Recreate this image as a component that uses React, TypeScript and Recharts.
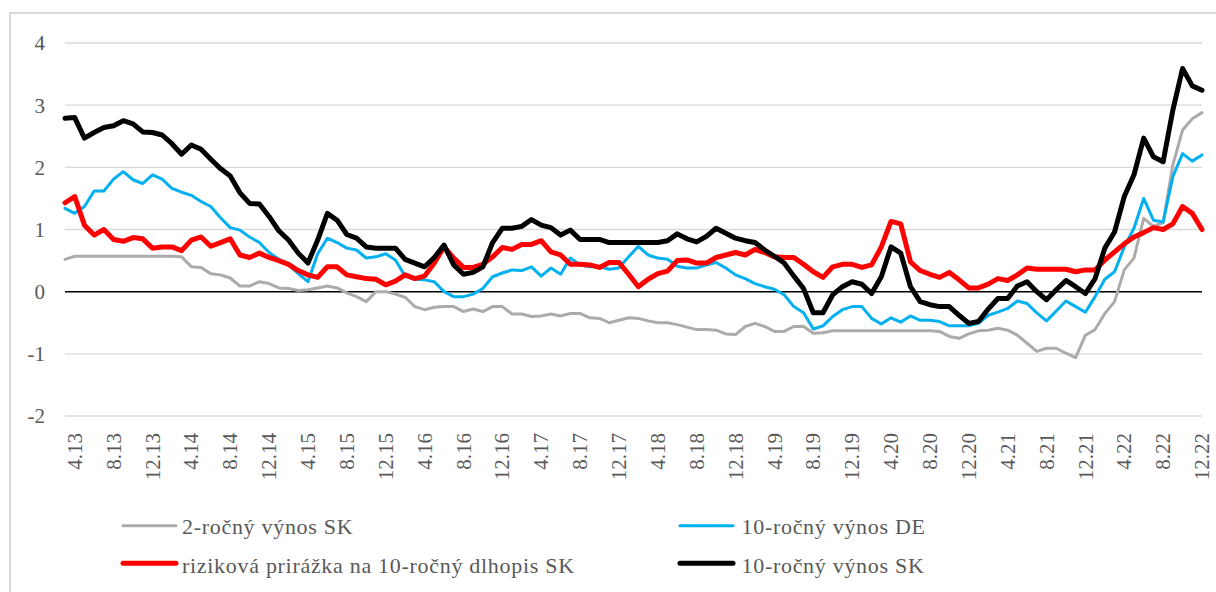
import React from "react";
import {
  LineChart,
  Line,
  XAxis,
  YAxis,
  CartesianGrid,
  ReferenceLine,
  Legend,
} from "recharts";

const FONT = '"Liberation Serif", "Times New Roman", serif';
const TEXT = "#595959";

// monthly categories 3.13 .. 12.22
const months: string[] = [];
for (let y = 13; y <= 22; y++) {
  for (let m = 1; m <= 12; m++) {
    if (y === 13 && m < 3) continue;
    months.push(`${m}.${y}`);
  }
}

const tickLabels = [
  "4.13", "8.13", "12.13", "4.14", "8.14", "12.14", "4.15", "8.15", "12.15",
  "4.16", "8.16", "12.16", "4.17", "8.17", "12.17", "4.18", "8.18", "12.18",
  "4.19", "8.19", "12.19", "4.20", "8.20", "12.20", "4.21", "8.21", "12.21",
  "4.22", "8.22", "12.22",
];

const yTicks = [-2, -1, 0, 1, 2, 3, 4];

const seriesNames = [
  "2-ročný výnos SK",
  "10-ročný výnos DE",
  "riziková prirážka na 10-ročný dlhopis SK",
  "10-ročný výnos SK",
];

const sk2y = [
  0.52, 0.57, 0.57, 0.57, 0.57, 0.57, 0.57, 0.57, 0.57, 0.57,
  0.57, 0.57, 0.56, 0.40, 0.39, 0.29, 0.27, 0.22, 0.09, 0.09,
  0.16, 0.13, 0.06, 0.05, 0.02, 0.03, 0.06, 0.09, 0.06, -0.02,
  -0.08, -0.16, 0.00, 0.00, -0.04, -0.09, -0.24, -0.29, -0.25, -0.24,
  -0.24, -0.32, -0.28, -0.32, -0.24, -0.24, -0.36, -0.36, -0.40, -0.39,
  -0.36, -0.39, -0.35, -0.35, -0.42, -0.43, -0.50, -0.46, -0.42, -0.43,
  -0.47, -0.50, -0.50, -0.53, -0.57, -0.61, -0.61, -0.62, -0.68, -0.69,
  -0.56, -0.51, -0.56, -0.64, -0.64, -0.56, -0.56, -0.67, -0.66, -0.63,
  -0.63, -0.63, -0.63, -0.63, -0.63, -0.63, -0.63, -0.63, -0.63, -0.63,
  -0.64, -0.72, -0.75, -0.68, -0.63, -0.62, -0.59, -0.62, -0.70, -0.83,
  -0.96, -0.91, -0.91, -0.99, -1.06, -0.70, -0.61, -0.35, -0.16, 0.35,
  0.54, 1.18, 1.05, 1.11, 2.04, 2.60, 2.78, 2.88,
];

const de10y = [
  1.34, 1.26, 1.37, 1.62, 1.62, 1.81, 1.93, 1.80, 1.74, 1.88,
  1.81, 1.66, 1.60, 1.55, 1.45, 1.37, 1.19, 1.03, 0.99, 0.88,
  0.79, 0.63, 0.52, 0.43, 0.29, 0.16, 0.61, 0.86, 0.79, 0.70,
  0.67, 0.54, 0.56, 0.61, 0.51, 0.25, 0.20, 0.19, 0.16, 0.00,
  -0.08, -0.08, -0.04, 0.05, 0.24, 0.30, 0.35, 0.34, 0.40, 0.25,
  0.38, 0.28, 0.54, 0.43, 0.40, 0.40, 0.36, 0.38, 0.56, 0.73,
  0.59, 0.54, 0.52, 0.41, 0.38, 0.38, 0.43, 0.47, 0.38, 0.27,
  0.21, 0.13, 0.08, 0.04, -0.05, -0.24, -0.34, -0.60, -0.55, -0.40,
  -0.29, -0.24, -0.24, -0.43, -0.52, -0.42, -0.49, -0.39, -0.46, -0.46,
  -0.48, -0.55, -0.55, -0.55, -0.51, -0.38, -0.33, -0.27, -0.15, -0.19,
  -0.34, -0.47, -0.31, -0.15, -0.24, -0.33, -0.08, 0.20, 0.32, 0.72,
  1.02, 1.50, 1.15, 1.12, 1.85, 2.22, 2.10, 2.20,
];

const spread = [
  1.43, 1.53, 1.07, 0.91, 1.00, 0.84, 0.81, 0.87, 0.85, 0.70,
  0.72, 0.72, 0.66, 0.83, 0.88, 0.73, 0.79, 0.85, 0.59, 0.55,
  0.62, 0.55, 0.50, 0.44, 0.34, 0.27, 0.23, 0.40, 0.40, 0.27,
  0.24, 0.21, 0.20, 0.11, 0.17, 0.27, 0.21, 0.25, 0.46, 0.72,
  0.54, 0.39, 0.39, 0.44, 0.56, 0.71, 0.68, 0.76, 0.76, 0.82,
  0.64, 0.59, 0.44, 0.44, 0.43, 0.39, 0.47, 0.47, 0.28, 0.08,
  0.20, 0.29, 0.33, 0.50, 0.51, 0.46, 0.46, 0.55, 0.59, 0.63,
  0.59, 0.68, 0.63, 0.56, 0.55, 0.55, 0.44, 0.32, 0.23, 0.40,
  0.44, 0.44, 0.39, 0.43, 0.72, 1.13, 1.09, 0.48, 0.34, 0.28,
  0.23, 0.31, 0.19, 0.06, 0.06, 0.12, 0.21, 0.18, 0.27, 0.38,
  0.36, 0.36, 0.36, 0.36, 0.32, 0.35, 0.35, 0.51, 0.64, 0.77,
  0.88, 0.95, 1.03, 1.00, 1.09, 1.37, 1.26, 1.00,
];

const sk10y = [
  2.79, 2.80, 2.47, 2.56, 2.64, 2.67, 2.75, 2.70, 2.57, 2.56,
  2.52, 2.38, 2.21, 2.36, 2.29, 2.13, 1.98, 1.86, 1.59, 1.42,
  1.41, 1.21, 0.98, 0.83, 0.62, 0.46, 0.83, 1.26, 1.15, 0.92,
  0.86, 0.72, 0.70, 0.70, 0.70, 0.52, 0.46, 0.40, 0.55, 0.75,
  0.43, 0.28, 0.31, 0.40, 0.79, 1.02, 1.02, 1.05, 1.16, 1.07,
  1.03, 0.91, 0.99, 0.84, 0.84, 0.84, 0.79, 0.79, 0.79, 0.79,
  0.79, 0.79, 0.82, 0.93, 0.85, 0.80, 0.89, 1.02, 0.94, 0.86,
  0.82, 0.79, 0.67, 0.57, 0.46, 0.25, 0.05, -0.34, -0.34, -0.05,
  0.08, 0.16, 0.12, -0.03, 0.24, 0.72, 0.62, 0.08, -0.16, -0.21,
  -0.24, -0.24, -0.38, -0.51, -0.48, -0.28, -0.11, -0.11, 0.09, 0.16,
  0.00, -0.13, 0.03, 0.18, 0.08, -0.03, 0.21, 0.70, 0.96, 1.53,
  1.88, 2.47, 2.17, 2.09, 2.92, 3.59, 3.31, 3.24,
];

const data = months.map((m, i) => ({
  m,
  sk2y: sk2y[i],
  de10y: de10y[i],
  spread: spread[i],
  sk10y: sk10y[i],
}));

const series = [
  { key: "sk2y", color: "#AEAAAA", width: 3 },
  { key: "de10y", color: "#00B0F0", width: 3 },
  { key: "spread", color: "#FF0000", width: 5 },
  { key: "sk10y", color: "#000000", width: 5 },
];

// legend slots: [lineX, textX, row]
const legendSlots = [
  [123, 182, 0],
  [680, 741.5, 0],
  [123, 182, 1],
  [680, 741.5, 1],
];

const XTick = (props: any) => {
  const { x, y, payload } = props;
  if (!tickLabels.includes(payload.value)) return <g />;
  return (
    <text
      x={x}
      y={y}
      transform={`rotate(-90, ${x}, ${y})`}
      textAnchor="end"
      dy="0.34em"
      fill={TEXT}
      fontSize={21}
      fontFamily={FONT}
    >
      {payload.value}
    </text>
  );
};

const LegendBox = () => (
  <svg width={1216} height={80} style={{ display: "block" }}>
    {series.map((s, i) => {
      const [lx, tx, row] = legendSlots[i];
      const ly = row === 0 ? 20.7 : 58.3;
      const ty = row === 0 ? 29 : 68;
      return (
        <g key={s.key}>
          <line
            x1={lx}
            x2={lx + 53}
            y1={ly}
            y2={ly}
            stroke={s.color}
            strokeWidth={s.width}
            strokeLinecap="round"
          />
          <text
            x={tx}
            y={ty}
            fill={TEXT}
            fontSize={22}
            fontFamily={FONT}
            letterSpacing={0.7}
          >
            {seriesNames[i]}
          </text>
        </g>
      );
    })}
  </svg>
);

export default function App() {
  return (
    <div
      style={{
        position: "absolute",
        left: 0,
        top: 0,
        width: 1216,
        height: 592,
        overflow: "hidden",
        background: "#fff",
      }}
    >
      <div
        style={{
          position: "absolute",
          left: 9,
          top: 12,
          width: 1300,
          height: 700,
          border: "2px solid #D9D9D9",
        }}
      />
      <div style={{ position: "absolute", left: 0, top: 0 }}>
        <LineChart
          width={1216}
          height={592}
          data={data}
          margin={{ top: 43, right: 14, bottom: 116, left: 0 }}
        >
          <CartesianGrid
            horizontal
            vertical={false}
            stroke="#D9D9D9"
            strokeWidth={1.3}
          />
          <XAxis
            dataKey="m"
            height={60}
            interval={0}
            axisLine={false}
            tickLine={false}
            tickSize={0}
            tickMargin={17}
            tick={<XTick />}
          />
          <YAxis
            type="number"
            domain={[-2, 4]}
            ticks={yTicks}
            interval={0}
            width={65}
            axisLine={false}
            tickLine={false}
            tickSize={0}
            tickMargin={20}
            tick={{ fill: TEXT, fontSize: 21, fontFamily: FONT }}
          />
          <ReferenceLine y={0} stroke="#000" strokeWidth={1.5} />
          {series.map((s) => (
            <Line
              key={s.key}
              type="linear"
              dataKey={s.key}
              stroke={s.color}
              strokeWidth={s.width}
              strokeLinejoin="round"
              strokeLinecap="round"
              dot={false}
              activeDot={false}
              isAnimationActive={false}
            />
          ))}
          <Legend
            layout="horizontal"
            verticalAlign="middle"
            align="center"
            wrapperStyle={{ top: 505, left: 0, width: 1216, height: 80 }}
            content={<LegendBox />}
          />
        </LineChart>
      </div>
    </div>
  );
}
